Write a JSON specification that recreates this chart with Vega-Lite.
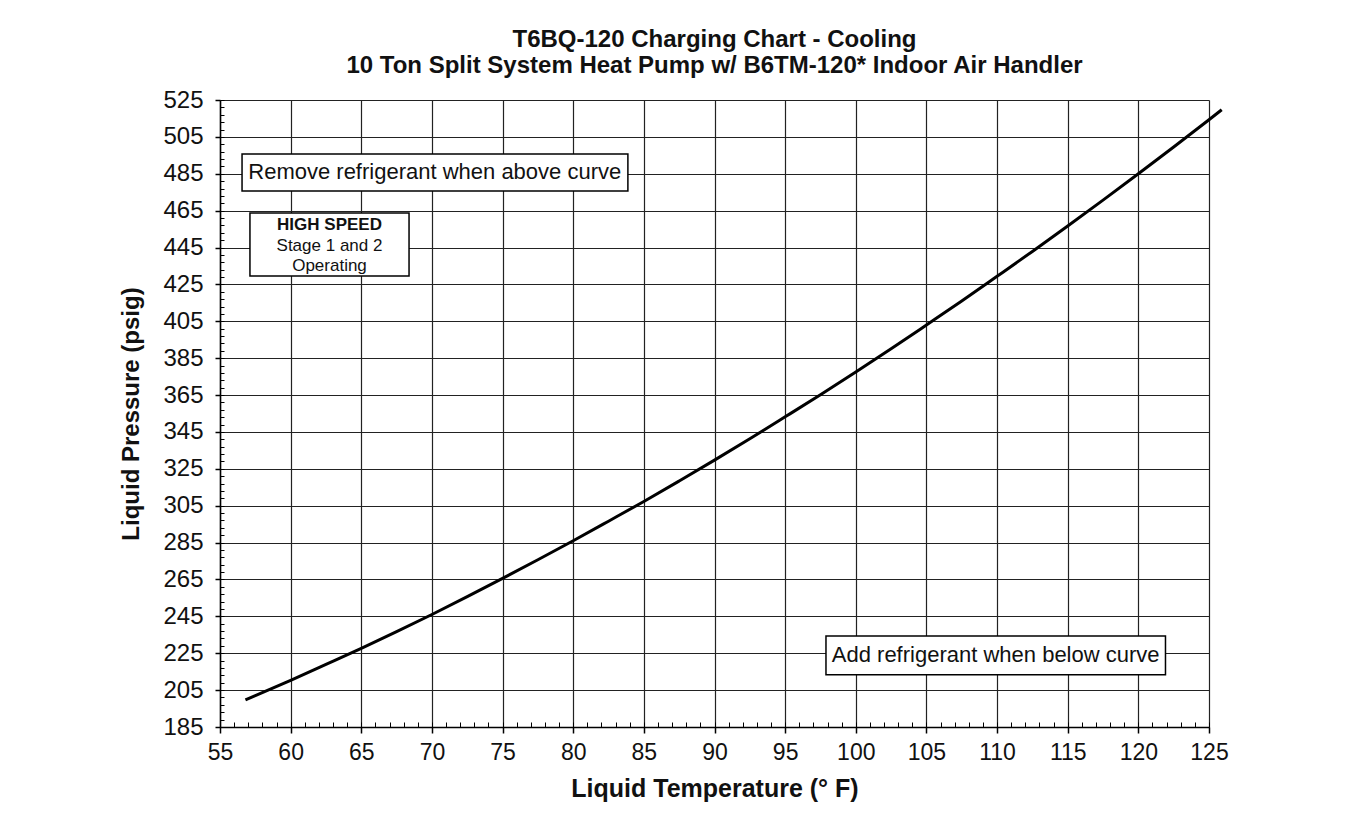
{
  "$schema": "https://vega.github.io/schema/vega-lite/v6.json",
  "width": 989,
  "height": 627,
  "autosize": {"type": "none"},
  "padding": {"left": 220, "top": 100, "right": 136, "bottom": 92},
  "background": "white",
  "title": {
    "text": ["T6BQ-120 Charging Chart - Cooling", "10 Ton Split System Heat Pump w/ B6TM-120* Indoor Air Handler"],
    "font": "Liberation Sans",
    "fontSize": 24,
    "fontWeight": "bold",
    "color": "#111",
    "anchor": "middle",
    "lineHeight": 26,
    "offset": 10
  },
  "config": {
    "view": {"stroke": null},
    "axis": {
      "labelFont": "Liberation Sans",
      "titleFont": "Liberation Sans",
      "labelColor": "#111",
      "titleColor": "#111",
      "domainColor": "#000",
      "tickColor": "#000"
    }
  },
  "datasets": {
    "curve": [
      {"temp": 56.8, "pressure": 199.7},
      {"temp": 57.5, "pressure": 202},
      {"temp": 60, "pressure": 210.3},
      {"temp": 62.5, "pressure": 218.9},
      {"temp": 65, "pressure": 227.6},
      {"temp": 67.5, "pressure": 236.7},
      {"temp": 70, "pressure": 246},
      {"temp": 72.5, "pressure": 255.7},
      {"temp": 75, "pressure": 265.6},
      {"temp": 77.5, "pressure": 275.7},
      {"temp": 80, "pressure": 286},
      {"temp": 82.5, "pressure": 296.6},
      {"temp": 85, "pressure": 307.3},
      {"temp": 87.5, "pressure": 318.4},
      {"temp": 90, "pressure": 329.7},
      {"temp": 92.5, "pressure": 341.3},
      {"temp": 95, "pressure": 353.2},
      {"temp": 97.5, "pressure": 365.2},
      {"temp": 100, "pressure": 377.5},
      {"temp": 102.5, "pressure": 390.1},
      {"temp": 105, "pressure": 403},
      {"temp": 107.5, "pressure": 416},
      {"temp": 110, "pressure": 429.4},
      {"temp": 112.5, "pressure": 442.9},
      {"temp": 115, "pressure": 456.7},
      {"temp": 117.5, "pressure": 470.7},
      {"temp": 120, "pressure": 485},
      {"temp": 122.5, "pressure": 499.5},
      {"temp": 125, "pressure": 514.3},
      {"temp": 125.9, "pressure": 519.7}
    ],
    "boxes": [
      {"x1": 56.56, "x2": 83.87, "y1": 475.7, "y2": 495.7},
      {"x1": 57.12, "x2": 68.38, "y1": 429.6, "y2": 463.7},
      {"x1": 97.89, "x2": 121.92, "y1": 213.4, "y2": 234.3}
    ],
    "bigLabels": [
      {"label": "Remove refrigerant when above curve", "x": 70.2, "y": 485.7},
      {"label": "Add refrigerant when below curve", "x": 109.9, "y": 223.8}
    ],
    "boldLabels": [
      {"label": "HIGH SPEED", "x": 62.75, "y": 457.2}
    ],
    "smallLabels": [
      {"label": "Stage 1 and 2", "x": 62.75, "y": 445.8},
      {"label": "Operating", "x": 62.75, "y": 435}
    ]
  },
  "resolve": {"axis": {"x": "independent", "y": "independent"}},
  "layer": [
    {
      "data": {"name": "curve"},
      "mark": {"type": "line", "color": "#000", "strokeWidth": 3, "interpolate": "monotone", "clip": false},
      "encoding": {
        "x": {
          "field": "temp", "type": "quantitative",
          "scale": {"domain": [55, 125], "nice": false, "zero": false},
          "axis": {
            "orient": "bottom",
            "values": [55, 60, 65, 70, 75, 80, 85, 90, 95, 100, 105, 110, 115, 120, 125],
            "grid": true, "gridColor": "#222", "gridWidth": 1.2, "gridOpacity": 1,
            "domainWidth": 1.5, "tickSize": 6, "tickWidth": 1.5,
            "labelFontSize": 23, "labelPadding": 8, "labelFlush": false,
            "title": "Liquid Temperature (° F)", "titleFontSize": 25, "titleFontWeight": "bold", "titlePadding": 12
          }
        },
        "y": {
          "field": "pressure", "type": "quantitative",
          "scale": {"domain": [185, 525], "nice": false, "zero": false},
          "axis": {
            "orient": "left",
            "values": [185, 205, 225, 245, 265, 285, 305, 325, 345, 365, 385, 405, 425, 445, 465, 485, 505, 525],
            "grid": true, "gridColor": "#222", "gridWidth": 1.2, "gridOpacity": 1,
            "domainWidth": 1.5, "tickSize": 5, "tickWidth": 1.5,
            "labelFontSize": 24, "labelPadding": 12, "labelFlush": false,
            "title": "Liquid Pressure (psig)", "titleFontSize": 24, "titleFontWeight": "bold", "titlePadding": 19
          }
        }
      }
    },
    {
      "data": {"name": "boxes"},
      "mark": {"type": "rect", "fill": "white", "stroke": "#000", "strokeWidth": 1.5},
      "encoding": {
        "x": {
          "field": "x1", "type": "quantitative",
          "axis": {
            "orient": "bottom",
            "values": [55,56,57,58,59,60,61,62,63,64,65,66,67,68,69,70,71,72,73,74,75,76,77,78,79,80,81,82,83,84,85,86,87,88,89,90,91,92,93,94,95,96,97,98,99,100,101,102,103,104,105,106,107,108,109,110,111,112,113,114,115,116,117,118,119,120,121,122,123,124,125],
            "grid": false, "domain": false, "labels": false, "title": null,
            "tickSize": -5, "tickWidth": 1
          }
        },
        "x2": {"field": "x2"},
        "y": {
          "field": "y1", "type": "quantitative",
          "axis": {
            "orient": "left",
            "values": [185,189,193,197,201,205,209,213,217,221,225,229,233,237,241,245,249,253,257,261,265,269,273,277,281,285,289,293,297,301,305,309,313,317,321,325,329,333,337,341,345,349,353,357,361,365,369,373,377,381,385,389,393,397,401,405,409,413,417,421,425,429,433,437,441,445,449,453,457,461,465,469,473,477,481,485,489,493,497,501,505,509,513,517,521,525],
            "grid": false, "domain": false, "labels": false, "title": null,
            "tickSize": -4, "tickWidth": 1
          }
        },
        "y2": {"field": "y2"}
      }
    },
    {
      "data": {"name": "bigLabels"},
      "mark": {"type": "text", "font": "Liberation Sans", "fontSize": 22, "color": "#111", "align": "center", "baseline": "middle"},
      "encoding": {
        "x": {"field": "x", "type": "quantitative", "axis": null},
        "y": {"field": "y", "type": "quantitative", "axis": null},
        "text": {"field": "label"}
      }
    },
    {
      "data": {"name": "boldLabels"},
      "mark": {"type": "text", "font": "Liberation Sans", "fontSize": 17, "fontWeight": "bold", "color": "#111", "align": "center", "baseline": "middle"},
      "encoding": {
        "x": {"field": "x", "type": "quantitative", "axis": null},
        "y": {"field": "y", "type": "quantitative", "axis": null},
        "text": {"field": "label"}
      }
    },
    {
      "data": {"name": "smallLabels"},
      "mark": {"type": "text", "font": "Liberation Sans", "fontSize": 17, "color": "#111", "align": "center", "baseline": "middle"},
      "encoding": {
        "x": {"field": "x", "type": "quantitative", "axis": null},
        "y": {"field": "y", "type": "quantitative", "axis": null},
        "text": {"field": "label"}
      }
    }
  ]
}
